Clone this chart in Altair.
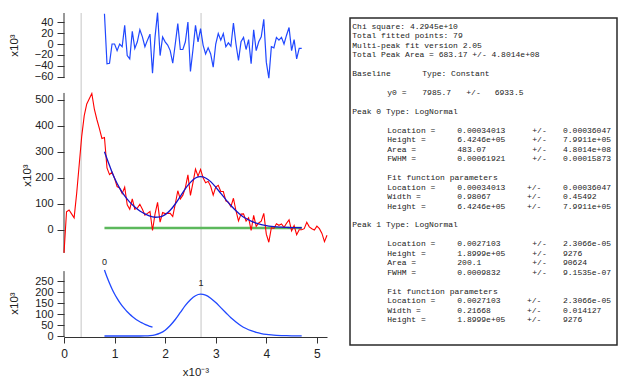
import altair as alt
import pandas as pd

# ---------------- data (x in units of 1e-3, y in units of 1e3) ----------------
data_x_start = 0.0
data_x_step = 0.05
data_y = [-88, 70, 77, 62, 47, 140, 250, 360, 440, 485, 505, 525, 465, 425, 390, 352,
          356, 239, 213, 222, 199, 167, 161, 140, 165, 97, 80, 120, 80, 84, 99, 80,
          57, 64, 71, -2, 62, 106, 30, 67, 63, 64, 64, 52, 100, 151, 119, 134, 163,
          212, 133, 182, 234, 207, 233, 201, 182, 187, 168, 134, 165, 172, 148, 148,
          112, 107, 90, 122, 74, 35, 61, 62, 34, 47, -2, 56, 14, 27, 34, 64, -16, -47,
          9, 6, 24, 18, 23, 10, 26, 39, -3, 17, -18, 1, 1,
          5, 30, 12, 5, 0, 15, 5, -13, -45, -20]

fit_x_start = 0.8
resid_x_step = 0.05
residual_y = [55, -36, -35, 0, 0, -12, 0, -5, 34, -21, -27, 23, -8, 4, 26, 13, -5, 7, 18, -53,
              13, 57, -21, 13, 4, -2, -12, -35, 0, 37, -10, -10, 4, 40, -50, -10, 34, 4, 28, -2,
              -18, -7, -18, -42, 0, 19, 7, 19, -5, 2, -4, 38, 0, -30, 4, 12, -10, 8, -36, 26,
              -12, 4, 13, 45, -33, -62, -5, -7, 12, 7, 12, 0, 16, 30, -12, 8, -27, -8, -8]

curve_x_step = 0.1
fit_y = [301, 248, 199, 161, 131, 107, 88, 73, 62, 53, 49, 50.5, 59, 76, 100, 129, 159, 183,
         200, 205, 200, 186, 165, 141, 117, 94, 74, 57, 44, 34, 26, 21, 17, 14, 12, 11, 10,
         9, 8.8, 8.6]

peak0_x_step = 0.05
peak0_y = [300, 268, 240, 214, 191, 171, 153, 137, 123, 110, 99, 89, 80, 72, 65, 59, 53, 48, 44, 40]
peak1_y = [0, 0, 0, 0, 0, 0, 0, 0.1, 0.5, 1.8, 5.4, 12.9, 26.5, 47.6, 75, 107, 139, 165, 183,
           190, 186, 172, 152, 129, 106, 83, 64, 47, 34, 24, 16.7, 11.3, 7.5, 4.9, 3.2, 2.1,
           1.3, 0.8, 0.5, 0.3]

baseline_y0 = 7.9857
fit_x_end = 4.7
peak_locations = [0.34013, 2.7103]
peak_names = ["0", "1"]

x_ticks = [0, 1, 2, 3, 4, 5]
res_ticks = [-60, -40, -20, 0, 20, 40]
mid_ticks = [0, 100, 200, 300, 400, 500]
bot_ticks = [0, 50, 100, 150, 200, 250]

report_header = ["Chi square: 4.2945e+10", "Total fitted points: 79",
                 "Multi-peak fit version 2.05", "Total Peak Area = 683.17 +/- 4.8014e+08"]
baseline_line = ["Baseline", "Type: Constant"]
y0_line = ["y0 =", "7985.7", "+/-", "6933.5"]
peak_titles = ["Peak 0 Type: LogNormal", "Peak 1 Type: LogNormal"]
peak_params = [
    [["Location =", "0.00034013", "+/-", "0.00036047"],
     ["Height =", "6.4246e+05", "+/-", "7.9911e+05"],
     ["Area =", "483.07", "+/-", "4.8014e+08"],
     ["FWHM =", "0.00061921", "+/-", "0.00015873"]],
    [["Location =", "0.0027103", "+/-", "2.3066e-05"],
     ["Height =", "1.8999e+05", "+/-", "9276"],
     ["Area =", "200.1", "+/-", "90624"],
     ["FWHM =", "0.0009832", "+/-", "9.1535e-07"]],
]
fit_params = [
    [["Location =", "0.00034013", "+/-", "0.00036047"],
     ["Width =", "0.98067", "+/-", "0.45492"],
     ["Height =", "6.4246e+05", "+/-", "7.9911e+05"]],
    [["Location =", "0.0027103", "+/-", "2.3066e-05"],
     ["Width =", "0.21668", "+/-", "0.014127"],
     ["Height =", "1.8999e+05", "+/-", "9276"]],
]
fit_params_title = "Fit function parameters"


def series(x0, dx, ys):
    return pd.DataFrame({"x": [round(x0 + i * dx, 4) for i in range(len(ys))], "y": ys})


raw_df = series(data_x_start, data_x_step, data_y)
res_df = series(fit_x_start, resid_x_step, residual_y)
fit_df = series(fit_x_start, curve_x_step, fit_y)
p0_df = series(fit_x_start, peak0_x_step, peak0_y)
p1_df = series(fit_x_start, curve_x_step, peak1_y)
base_df = pd.DataFrame({"x": [fit_x_start], "x2": [fit_x_end], "y": [baseline_y0]})
loc_df = pd.DataFrame({"loc": peak_locations})
lab_df = pd.DataFrame({"x": [fit_x_start, peak_locations[1]],
                       "y": [peak0_y[0], max(peak1_y)], "t": peak_names})

# ---------------- styling ----------------
FONT = "Liberation Sans"
AX = "#333333"
W = 263
H_TOP, H_MID, H_BOT = 73, 176, 75
xs = alt.Scale(domain=[0, 5.2], nice=False, zero=False)
x_axis = alt.Axis(values=x_ticks, title="x10⁻³", titleY=35, titleBaseline="middle",
                  titleFont=FONT, titleFontSize=11.5, titleFontWeight="normal", titleColor="#222",
                  grid=False, domainColor=AX, domainWidth=1, tickColor=AX, tickSize=6,
                  labelPadding=5, labelFont=FONT, labelFontSize=12, labelColor="#222",
                  labelFlush=False, labelOverlap=False, format="d")


def yax(ticks, tx, ty):
    return alt.Axis(values=ticks, title="x10³", titleX=tx, titleY=ty, titleAngle=270,
                    titleAlign="center", titleBaseline="middle", titleFont=FONT,
                    titleFontSize=11.5, titleFontWeight="normal", titleColor="#222",
                    domain=False, grid=False, tickSize=7, tickColor=AX, tickWidth=1,
                    labelPadding=4, labelFont=FONT, labelFontSize=11, labelColor="#222",
                    labelOverlap=False, labelFlush=False, format="d")


def panel(height, ydom, axis_lo, axis_hi, ticks, tx, ty, layers_fn, xaxis=None):
    ys = alt.Scale(domain=ydom, nice=False, zero=False)
    ya = yax(ticks, tx, ty)

    def X(field):
        return alt.X(field, scale=xs, axis=xaxis, title=None if xaxis is None else "x10⁻³")

    def Y(field):
        return alt.Y(field, scale=ys, axis=ya, title="x10³")

    gray = alt.Chart(loc_df).mark_rule(color="#d9d9d9", strokeWidth=1.5).encode(x=X("loc:Q"))
    ax_df = pd.DataFrame({"x": [0.0], "lo": [axis_lo], "hi": [axis_hi]})
    axline = alt.Chart(ax_df).mark_rule(color=AX, strokeWidth=1).encode(
        x=X("x:Q"), y=Y("lo:Q"), y2="hi:Q")
    return alt.layer(gray, axline, *layers_fn(X, Y)).properties(width=W, height=height)


def top_layers(X, Y):
    return [alt.Chart(res_df).mark_line(color="#2048ff", strokeWidth=1.2).encode(x=X("x:Q"), y=Y("y:Q"))]


def mid_layers(X, Y):
    green = alt.Chart(base_df).mark_rule(color="#5cb85c", strokeWidth=2.5).encode(
        x=X("x:Q"), x2="x2:Q", y=Y("y:Q"))
    red = alt.Chart(raw_df).mark_line(color="#ff0000", strokeWidth=1.1).encode(x=X("x:Q"), y=Y("y:Q"))
    blue = alt.Chart(fit_df).mark_line(color="#1515c8", strokeWidth=1.3, interpolate="monotone").encode(
        x=X("x:Q"), y=Y("y:Q"))
    return [green, red, blue]


def bot_layers(X, Y):
    c0 = alt.Chart(p0_df).mark_line(color="#2048ff", strokeWidth=1.3, interpolate="monotone").encode(
        x=X("x:Q"), y=Y("y:Q"))
    c1 = alt.Chart(p1_df).mark_line(color="#2048ff", strokeWidth=1.3, interpolate="monotone").encode(
        x=X("x:Q"), y=Y("y:Q"))
    lab0 = alt.Chart(lab_df.iloc[[0]]).mark_text(font=FONT, fontSize=9, color="#222", dy=-3,
                                                 baseline="bottom").encode(
        x=X("x:Q"), y=Y("y:Q"), text="t:N")
    lab1 = alt.Chart(lab_df.iloc[[1]]).mark_text(font=FONT, fontSize=9, color="#222", dy=-6,
                                                 baseline="bottom").encode(
        x=X("x:Q"), y=Y("y:Q"), text="t:N")
    return [c0, c1, lab0, lab1]


top = panel(H_TOP, [-76.4, 56.4], -62, 56.4, res_ticks, -50, 32, top_layers)
mid = panel(H_MID, [-123.1, 553.8], -88, 527, mid_ticks, -37, 89, mid_layers)
bot = panel(H_BOT, [-4.5, 336.4], -4.5, 295, bot_ticks, -50, 41, bot_layers, xaxis=x_axis)

left = alt.vconcat(top, mid, bot, spacing=0, bounds="flush")

# ---------------- report box ----------------
TW, TH = 280, 324
C_LEFT, C_IND, C_TYPE, C_VAL, C_PM, C_PMF, C_VAL2 = 9.3, 44.3, 79.3, 114.3, 189.3, 184.0, 220.0
Y0_PM, Y0_VAL2 = 123.3, 151.7
LINE0, LINE_H = 14.0, 9.45

rows = []


def add(line, col, text):
    rows.append({"px": col, "py": LINE0 + LINE_H * line, "t": text})


for i, s in enumerate(report_header):
    add(i, C_LEFT, s)
add(5, C_LEFT, baseline_line[0])
add(5, C_TYPE, baseline_line[1])
for col, s in zip([C_IND, C_TYPE, Y0_PM, Y0_VAL2], y0_line):
    add(7, col, s)
for p, start in enumerate([9, 21]):
    add(start, C_LEFT, peak_titles[p])
    for j, prm in enumerate(peak_params[p]):
        for col, s in zip([C_IND, C_VAL, C_PM, C_VAL2], prm):
            add(start + 2 + j, col, s)
    add(start + 7, C_IND, fit_params_title)
    for j, prm in enumerate(fit_params[p]):
        for col, s in zip([C_IND, C_VAL, C_PMF, C_VAL2], prm):
            add(start + 8 + j, col, s)
text_df = pd.DataFrame(rows)

bx = alt.Scale(domain=[0, TW], nice=False, zero=False)
by = alt.Scale(domain=[0, TH], nice=False, zero=False, reverse=True)
frame_df = pd.DataFrame({"x": [7], "x2": [274], "y": [5], "y2": [332]})
frame = alt.Chart(frame_df).mark_rect(fill="white", stroke="#2a2a2a", strokeWidth=1.5).encode(
    x=alt.X("x:Q", scale=bx, axis=None), x2="x2:Q",
    y=alt.Y("y:Q", scale=by, axis=None), y2="y2:Q")
txt = alt.Chart(text_df).mark_text(font="Liberation Mono", fontSize=8, align="left",
                                   baseline="middle", color="#222").encode(
    x=alt.X("px:Q", scale=bx, axis=None), y=alt.Y("py:Q", scale=by, axis=None), text="t:N")
box = alt.layer(frame, txt).properties(width=TW, height=TH)

chart = alt.hconcat(left, box, spacing=13).properties(
    padding={"left": 0, "top": 2, "right": 0, "bottom": 0}
).configure_view(stroke=None)

chart.save("out.html", embed_options={"renderer": "svg", "actions": False})
